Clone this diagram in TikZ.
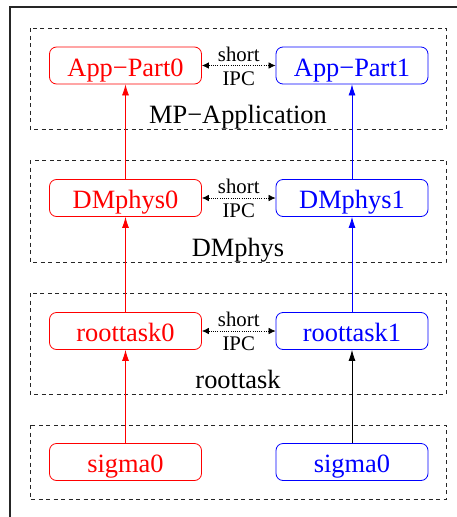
\documentclass[tikz,border=0pt]{standalone}
\usepackage{fontspec}
\setmainfont{Liberation Serif}
\usetikzlibrary{arrows.meta}

\tikzset{
  proc/.style={draw, rounded corners=7pt, line width=0.8pt,
    minimum width=152pt, minimum height=37pt, inner ysep=5pt,
    text height=24pt, text depth=3pt,
    font=\fontsize{26.4}{30}\selectfont},
  leftproc/.style={proc, draw=red, text=red},
  rightproc/.style={proc, draw=blue, text=blue},
  layer/.style={draw=black!85, line width=0.8pt, dash pattern=on 4pt off 3.5pt},
  layername/.style={anchor=base, font=\fontsize{26.4}{30}\selectfont},
  up/.style={-{Latex[length=11pt,width=7pt]}, line width=0.8pt},
  ipc/.style={{Latex[length=7pt,width=6.5pt]}-{Latex[length=7pt,width=6.5pt]},
    dash pattern=on 0.9pt off 1.3pt, line width=0.7pt},
  ipctext/.style={anchor=base, font=\fontsize{20.8}{24}\selectfont, inner sep=0pt}
}

\begin{document}
\begin{tikzpicture}[x=1pt, y=-1pt]
  \useasboundingbox (0,0) rectangle (457,517);

  % outer frame
  \draw[line width=1.2pt, black!85] (10,517) -- (10,7) -- (457,7);

  % layer boxes
  \draw[layer] (30,28) rectangle (446,129);
  \draw[layer] (30,160) rectangle (446,262);
  \draw[layer] (30,293) rectangle (446,394);
  \draw[layer] (30,425) rectangle (446,499);

  \node[layername] (lapp) at (238,123) {MP−Application};
  \node[layername] (ldm)  at (238,256) {DMphys};
  \node[layername] (lrt)  at (238,388) {roottask};

  % processes
  \node[leftproc]  (app0) at (125.5,65.5) {App−Part0};
  \node[rightproc] (app1) at (352,65.5)   {App−Part1};
  \node[leftproc]  (dm0)  at (125.5,198)  {DMphys0};
  \node[rightproc] (dm1)  at (352,198)    {DMphys1};
  \node[leftproc]  (rt0)  at (125.5,331)  {roottask0};
  \node[rightproc] (rt1)  at (352,331)    {roottask1};
  \node[leftproc]  (sg0)  at (125.5,462)  {sigma0};
  \node[rightproc] (sg1)  at (352,462)    {sigma0};

  % vertical dependencies
  \draw[up, red]  (dm0) -- (app0);
  \draw[up, red]  (rt0) -- (dm0);
  \draw[up, red]  (sg0) -- (rt0);
  \draw[up, blue] (dm1) -- (app1);
  \draw[up, blue] (rt1) -- (dm1);
  \draw[up, black] (sg1) -- (rt1);

  % short IPC links
  \foreach \a/\b in {app0/app1, dm0/dm1, rt0/rt1} {
    \draw[ipc] (\a) -- node[ipctext, yshift=4.5pt] {short}
                       node[ipctext, yshift=-19.5pt] {IPC} (\b);
  }
\end{tikzpicture}
\end{document}
